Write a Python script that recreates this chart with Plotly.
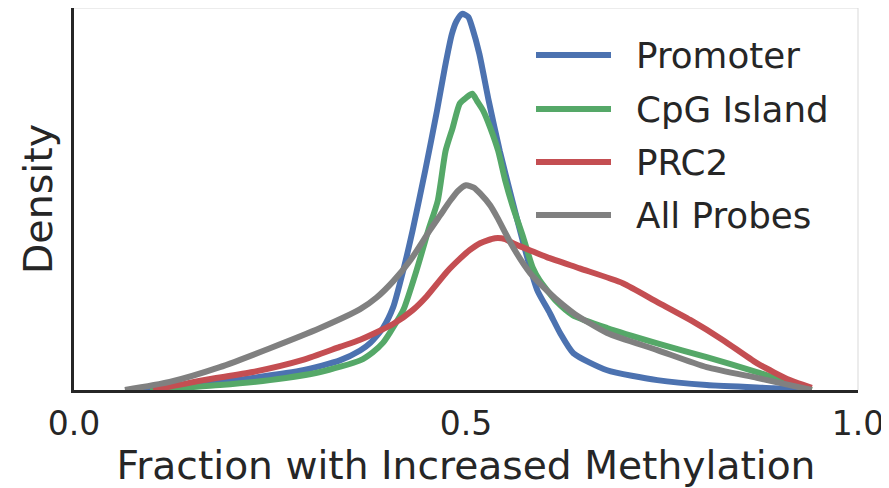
import plotly.graph_objects as go

# ---------------- data ----------------
promoter_x = [0.08, 0.165, 0.228, 0.292, 0.339, 0.365, 0.378, 0.394, 0.407, 0.42, 0.432, 0.448,
              0.463, 0.473, 0.482, 0.488, 0.495, 0.503, 0.508, 0.517, 0.529, 0.543, 0.559, 0.578,
              0.591, 0.607, 0.62, 0.637, 0.68, 0.744, 0.807, 0.892, 0.939]
promoter_y = [0, 0.13, 0.27, 0.44, 0.66, 0.88, 1.05, 1.38, 1.84, 2.67, 3.56, 4.89,
              6.22, 7.18, 7.93, 8.22, 8.38, 8.31, 8.07, 7.49, 6.44, 5.33, 4.22, 2.96,
              2.22, 1.71, 1.27, 0.82, 0.44, 0.22, 0.11, 0.04, 0]

cpg_x = [0.097, 0.186, 0.25, 0.314, 0.365, 0.381, 0.394, 0.403, 0.42, 0.437, 0.452, 0.464,
         0.474, 0.483, 0.492, 0.5, 0.508, 0.514, 0.522, 0.531, 0.541, 0.55, 0.56, 0.573,
         0.585, 0.594, 0.616, 0.636, 0.68, 0.744, 0.807, 0.871, 0.913, 0.941]
cpg_y = [0, 0.11, 0.22, 0.40, 0.66, 0.84, 1.05, 1.28, 1.78, 2.67, 3.56, 4.22,
         5.33, 5.84, 6.38, 6.51, 6.60, 6.44, 6.22, 5.84, 5.33, 4.67, 4.07, 3.40,
         2.73, 2.44, 1.96, 1.67, 1.38, 1.04, 0.73, 0.40, 0.16, 0]

prc2_x = [0.101, 0.165, 0.228, 0.292, 0.339, 0.365, 0.407, 0.432, 0.45, 0.476, 0.492, 0.505,
          0.518, 0.537, 0.55, 0.56, 0.582, 0.603, 0.645, 0.7, 0.744, 0.786, 0.828, 0.871,
          0.913, 0.941]
prc2_y = [0, 0.22, 0.40, 0.67, 0.96, 1.12, 1.47, 1.78, 2.09, 2.64, 2.92, 3.12,
          3.27, 3.38, 3.36, 3.27, 3.11, 2.96, 2.71, 2.38, 1.96, 1.56, 1.11, 0.60,
          0.22, 0.05]

all_x = [0.065, 0.122, 0.186, 0.25, 0.314, 0.365, 0.386, 0.407, 0.429, 0.454, 0.467, 0.48,
         0.49, 0.5, 0.51, 0.518, 0.531, 0.54, 0.56, 0.582, 0.603, 0.624, 0.639, 0.68,
         0.744, 0.807, 0.871, 0.913, 0.941]
all_y = [0, 0.18, 0.51, 0.93, 1.38, 1.80, 2.06, 2.42, 2.89, 3.56, 3.89, 4.22,
         4.44, 4.56, 4.51, 4.38, 4.11, 3.84, 3.18, 2.60, 2.22, 1.89, 1.69, 1.27,
         0.89, 0.51, 0.27, 0.11, 0]

series_names = ["Promoter", "CpG Island", "PRC2", "All Probes"]
series_colors = ["#4C72B0", "#55A868", "#C44E52", "#808080"]
tick_vals = [0.0, 0.5, 1.0]
tick_text = ["0.0", "0.5", "1.0"]

# ---------------- figure ----------------
FONT = "DejaVu Sans"
TXT = "#262626"
fig = go.Figure()
series = [(promoter_x, promoter_y), (cpg_x, cpg_y), (prc2_x, prc2_y), (all_x, all_y)]
for (xs, ys), name, col in zip(series, series_names, series_colors):
    fig.add_trace(go.Scatter(x=xs, y=ys, mode="lines", name=name,
                             line=dict(color=col, width=6, shape="spline", smoothing=0.6),
                             showlegend=False))

# page has an 8px body margin; size the figure so the plot lands where it should
OFF = 8
W, H = 889 - OFF, 488 - OFF
ML, MR, MT, MB = 74 - OFF, 31, 0, 98
PW, PH = W - ML - MR, H - MT - MB

def px2paper(px, py):
    # px, py are window pixel coordinates
    return (px - OFF - ML) / PW, (H - MB - (py - OFF)) / PH

shapes = []
annotations = []
# light top / right frame
shapes.append(dict(type="line", xref="paper", yref="paper", x0=0, x1=1, y0=1, y1=1,
                   line=dict(color="#d9d9d9", width=1)))
shapes.append(dict(type="line", xref="paper", yref="paper", x0=1, x1=1, y0=0, y1=1,
                   line=dict(color="#d9d9d9", width=1)))
# custom legend
leg_y = [55, 109, 162, 215]
for name, col, ly in zip(series_names, series_colors, leg_y):
    x0, y0 = px2paper(536, ly)
    x1, _ = px2paper(611, ly)
    shapes.append(dict(type="line", xref="paper", yref="paper", x0=x0, x1=x1, y0=y0, y1=y0,
                       line=dict(color=col, width=6)))
    tx, _ = px2paper(634, ly)
    annotations.append(dict(xref="paper", yref="paper", x=tx, y=y0, text=name,
                            showarrow=False, xanchor="left", yanchor="middle",
                            font=dict(family=FONT, size=35.7, color=TXT)))

fig.update_layout(
    width=W, height=H,
    margin=dict(l=ML, r=MR, t=MT, b=MB, pad=0),
    paper_bgcolor="white", plot_bgcolor="white",
    font=dict(family=FONT, color=TXT),
    shapes=shapes, annotations=annotations,
    xaxis=dict(range=[0, 1], tickvals=tick_vals, ticktext=tick_text, showgrid=False,
               zeroline=False, showline=True, linecolor="#262626", linewidth=2.5,
               ticks="", automargin=False, ticklabelstandoff=3,
               tickfont=dict(family=FONT, size=33, color=TXT),
               title=dict(text="Fraction with Increased Methylation", standoff=14,
                          font=dict(family=FONT, size=39.2, color=TXT))),
    yaxis=dict(range=[0, 8.51], showticklabels=False, showgrid=False, zeroline=False,
               showline=True, linecolor="#262626", linewidth=2.5, ticks="", automargin=False,
               title=dict(text="Density", standoff=7,
                          font=dict(family=FONT, size=39.5, color=TXT))),
)

fig.write_html("out.html")
